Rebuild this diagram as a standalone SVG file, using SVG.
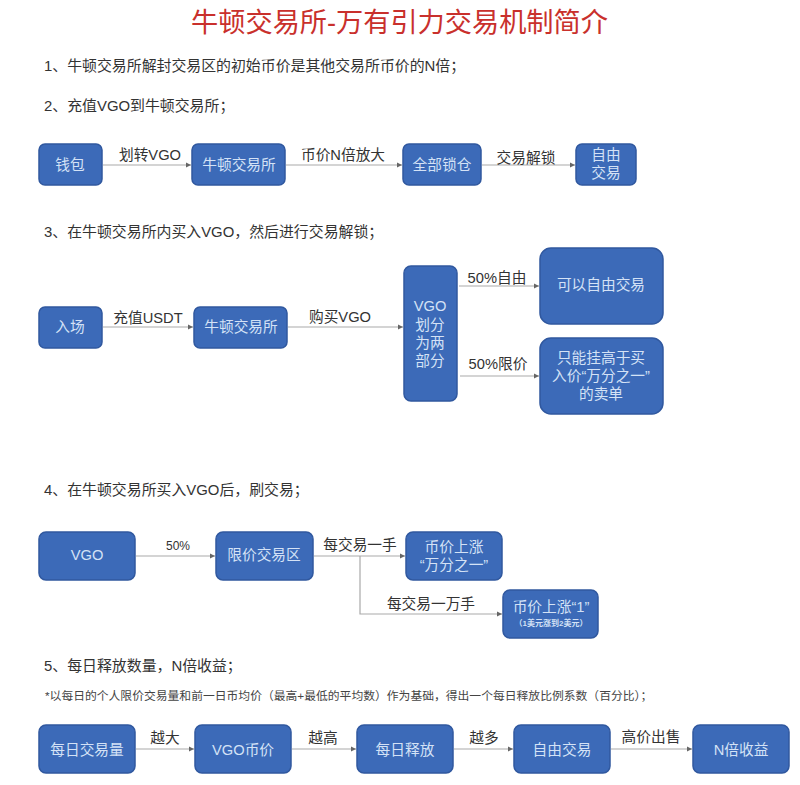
<svg xmlns="http://www.w3.org/2000/svg" width="800" height="785" viewBox="0 0 800 785">
<defs>
<style>
text{font-family:"Liberation Sans","Noto Sans CJK SC",sans-serif}
.n rect{fill:#3c6ab8;stroke:#30589f;stroke-width:1.5}
.n text{fill:#d4e2f6;font-size:14.7px;text-anchor:middle}
.h{fill:#333;font-size:14.9px}
.l{fill:#333;font-size:14.7px;text-anchor:middle}
#connectors path{fill:none;stroke:#a9a9a9;stroke-width:1.2;marker-end:url(#a)}
</style>
<marker id="a" markerWidth="7" markerHeight="7" refX="5" refY="3" orient="auto" markerUnits="userSpaceOnUse"><path d="M0 0.5L5 3L0 5.5z" fill="#666"/></marker>
</defs>
<rect width="800" height="785" fill="#fff"/>
<text x="399.5" y="32" text-anchor="middle" fill="#c9302c" font-size="27.2px">牛顿交易所-万有引力交易机制简介</text>
<text class="h" x="44" y="71">1、牛顿交易所解封交易区的初始币价是其他交易所币价的N倍；</text>
<text class="h" x="44" y="111">2、充值VGO到牛顿交易所；</text>
<text class="h" x="44" y="237">3、在牛顿交易所内买入VGO，然后进行交易解锁；</text>
<text class="h" x="44" y="495">4、在牛顿交易所买入VGO后，刷交易；</text>
<text class="h" x="44" y="671">5、每日释放数量，N倍收益；</text>
<text x="45" y="700" fill="#444" font-size="11.8px">*以每日的个人限价交易量和前一日币均价（最高+最低的平均数）作为基础，得出一个每日释放比例系数（百分比）；</text>
<g id="connectors">
<path d="M103 165H191"/><path d="M286 165H402"/><path d="M482 165H575"/>
<path d="M103 327H193"/><path d="M288 327H403"/><path d="M459 286H539"/><path d="M460 376H539"/>
<path d="M136 556H215"/><path d="M314 556H405"/><path d="M360 556V614H502"/>
<path d="M136 749H194"/><path d="M292 749H356"/><path d="M454 749H513"/><path d="M611 749H692"/>
</g>
<g fill="#333">
<text class="l" x="150" y="160">划转VGO</text><text class="l" x="343" y="160">币价N倍放大</text><text class="l" x="526" y="163">交易解锁</text>
<text class="l" x="148" y="323">充值USDT</text><text class="l" x="340" y="322">购买VGO</text>
<text class="l" x="497" y="283">50%自由</text><text class="l" x="498" y="369">50%限价</text>
<text class="l" x="178" y="550" style="font-size:12px">50%</text><text class="l" x="360" y="550">每交易一手</text><text class="l" x="431" y="609">每交易一万手</text>
<text class="l" x="165" y="743">越大</text><text class="l" x="323" y="743">越高</text><text class="l" x="484" y="743">越多</text><text class="l" x="651" y="742">高价出售</text>
</g>
<g id="n1" class="n"><rect x="39" y="144" width="63" height="41" rx="6"/><text x="70" y="170">钱包</text></g>
<g id="n2" class="n"><rect x="192" y="144" width="93" height="41" rx="6"/><text x="239" y="170">牛顿交易所</text></g>
<g id="n3" class="n"><rect x="403" y="144" width="78" height="41" rx="6"/><text x="442" y="170">全部锁仓</text></g>
<g id="n4" class="n"><rect x="576" y="144" width="60" height="41" rx="6"/><text x="606" y="160">自由</text><text x="606" y="178">交易</text></g>
<g id="n5" class="n"><rect x="39" y="307" width="63" height="41" rx="6"/><text x="70" y="332">入场</text></g>
<g id="n6" class="n"><rect x="194" y="307" width="93" height="41" rx="6"/><text x="241" y="332">牛顿交易所</text></g>
<g id="n7" class="n"><rect x="404" y="266" width="53" height="135" rx="7"/><text x="430" y="311">VGO</text><text x="430" y="330">划分</text><text x="430" y="348">为两</text><text x="430" y="366">部分</text></g>
<g id="n8" class="n"><rect x="540" y="248" width="123" height="76" rx="11"/><text x="601" y="290">可以自由交易</text></g>
<g id="n9" class="n"><rect x="540" y="338" width="123" height="76" rx="11"/><text x="601" y="363">只能挂高于买</text><text x="601" y="381">入价“万分之一”</text><text x="601" y="399">的卖单</text></g>
<g id="n10" class="n"><rect x="39" y="532" width="96" height="48" rx="7"/><text x="87" y="560">VGO</text></g>
<g id="n11" class="n"><rect x="216" y="532" width="97" height="48" rx="7"/><text x="264" y="560">限价交易区</text></g>
<g id="n12" class="n"><rect x="406" y="532" width="96" height="48" rx="7"/><text x="454" y="552">币价上涨</text><text x="454" y="570">“万分之一”</text></g>
<g id="n13" class="n"><rect x="503" y="590" width="95" height="48" rx="7"/><text x="551" y="612">币价上涨“1”</text><text x="551" y="626" style="font-size:8px;font-weight:bold">（1美元涨到2美元）</text></g>
<g id="n14" class="n"><rect x="39" y="725" width="96" height="48" rx="7"/><text x="87" y="755">每日交易量</text></g>
<g id="n15" class="n"><rect x="195" y="725" width="96" height="48" rx="7"/><text x="243" y="755">VGO币价</text></g>
<g id="n16" class="n"><rect x="357" y="725" width="96" height="48" rx="7"/><text x="405" y="755">每日释放</text></g>
<g id="n17" class="n"><rect x="514" y="725" width="96" height="48" rx="7"/><text x="562" y="755">自由交易</text></g>
<g id="n18" class="n"><rect x="693" y="725" width="96" height="48" rx="7"/><text x="741" y="755">N倍收益</text></g>
</svg>
